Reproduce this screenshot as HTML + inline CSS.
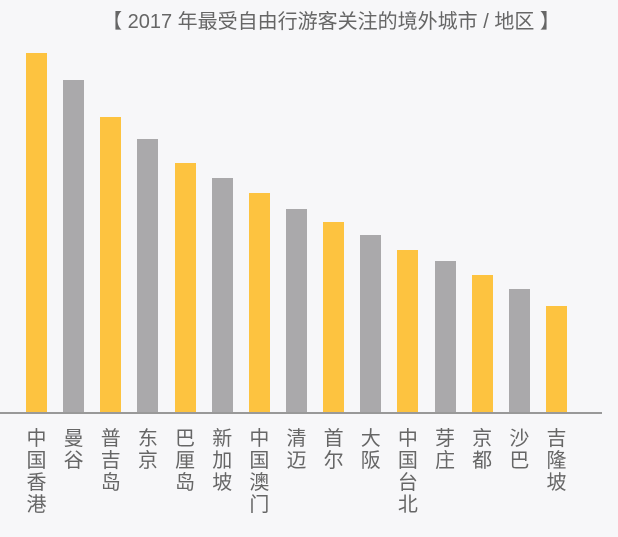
<!DOCTYPE html>
<html><head><meta charset="utf-8"><style>
body{margin:0;width:618px;height:537px;background:#f7f7f9;position:relative;overflow:hidden;font-family:"Liberation Sans","Noto Sans CJK SC",sans-serif;}
.t{position:absolute;top:5px;left:0;width:662px;text-align:center;font-size:20px;color:#666;white-space:nowrap;}
.b{position:absolute;width:21px;}
.y{background:#fdc340}.g{background:#aaa9ab}
.ax{position:absolute;left:0;top:412px;width:602px;height:2px;background:#999;}
.l{position:absolute;top:428px;width:24px;font-size:20px;line-height:22px;color:#666;text-align:center;}
</style></head><body>
<div class="t">【 2017 年最受自由行游客关注的境外城市 / 地区 】</div>
<div id="c"></div>
<div class="ax"></div>
<script>
var tops=[53,80,117,139,163,178,193,209,222,235,250,261,275,289,306];
var names=["中国香港","曼谷","普吉岛","东京","巴厘岛","新加坡","中国澳门","清迈","首尔","大阪","中国台北","芽庄","京都","沙巴","吉隆坡"];
var h="";
for(var i=0;i<15;i++){var x=26+i*37.14;
h+='<div class="b '+(i%2?'g':'y')+'" style="left:'+x+'px;top:'+tops[i]+'px;height:'+(413-tops[i])+'px"></div>';
h+='<div class="l" style="left:'+(x-1.5)+'px">'+names[i].split("").join("<br>")+'</div>';}
document.getElementById("c").innerHTML=h;
</script>
</body></html>
